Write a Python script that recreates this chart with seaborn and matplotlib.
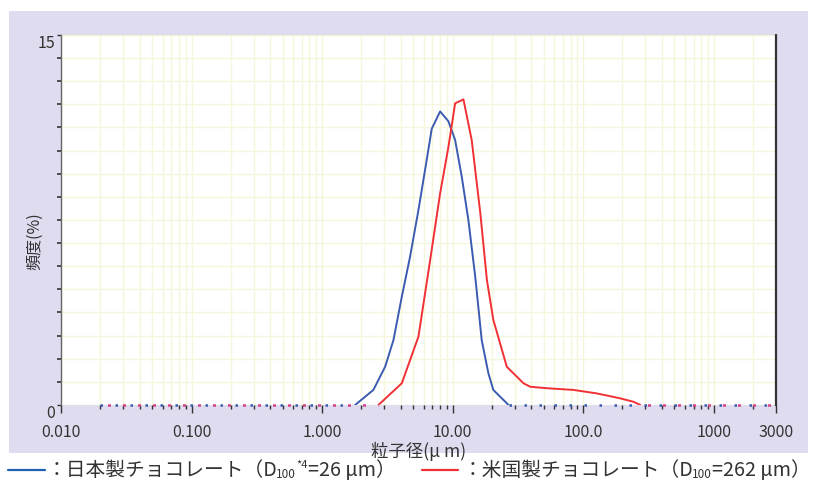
import numpy as np
import pandas as pd
import matplotlib
matplotlib.use("Agg")
import matplotlib.pyplot as plt
import matplotlib.ticker as mticker
from matplotlib.lines import Line2D
import seaborn as sns

# Particle size distribution of chocolate (frequency %, log size axis)
jp_size = [1.79, 2.47, 3.04, 3.52, 4.08, 4.72, 5.47, 6.15, 6.92, 8.02, 9.29,
           10.45, 11.75, 13.2, 14.9, 16.7, 18.8, 20.5, 26.8]
jp_freq = [0.0, 0.61, 1.55, 2.63, 4.39, 6.01, 7.9, 9.53, 11.2, 11.9, 11.5,
           10.74, 9.25, 7.5, 5.2, 2.63, 1.28, 0.61, 0.0]

us_size = [2.70, 4.08, 5.47, 6.73, 8.02, 9.29, 10.45, 12.1, 14.0, 16.3, 18.3,
           20.5, 26.0, 34.9, 39.3, 52.7, 84.4, 127.0, 192.0, 243.0, 274.0]
us_freq = [0.0, 0.88, 2.77, 5.88, 8.58, 10.47, 12.23, 12.39, 10.74, 7.77, 5.07,
           3.45, 1.55, 0.88, 0.74, 0.68, 0.61, 0.47, 0.27, 0.13, 0.0]

series_names = ["日本製チョコレート", "米国製チョコレート"]
series_colors = ["#3a5bb0", "#f03035"]

x_ticks = [0.01, 0.1, 1, 10, 100, 1000, 3000]
x_tick_labels = ["0.010", "0.100", "1.000", "10.00", "100.0", "1000", "3000"]
y_ticks = [0, 15]
y_tick_labels = ["0", "15"]
x_range = (0.01, 3000)
baseline_start = 0.02

sns.set_style("white")
plt.rcParams["font.family"] = ["Noto Sans CJK JP", "DejaVu Sans"]

df = pd.concat([
    pd.DataFrame({"size": jp_size, "freq": jp_freq, "sample": series_names[0]}),
    pd.DataFrame({"size": us_size, "freq": us_freq, "sample": series_names[1]}),
])

fig = plt.figure(figsize=(8.21, 4.88), dpi=100)
fig.patch.set_facecolor("white")

# lavender panel behind the chart
panel = plt.Rectangle((0.011, 0.0717), 0.973, 0.905, transform=fig.transFigure,
                      facecolor="#dedcee", edgecolor="none", zorder=0)
fig.add_artist(panel)

ax = fig.add_axes([0.0743, 0.1701, 0.8709, 0.7582])
ax.set_facecolor("white")
ax.set_zorder(1)

sns.lineplot(data=df, x="size", y="freq", hue="sample",
             palette=dict(zip(series_names, series_colors)),
             linewidth=1.4, legend=False, ax=ax, zorder=3)

# zero-frequency channels along the baseline, drawn dotted
base_kw = dict(lw=1.8, zorder=4, clip_on=False, dash_capstyle="butt")
ax.plot([baseline_start, jp_size[0]], [0, 0], color=series_colors[0],
        ls=(0, (1, 5)), **base_kw)
ax.plot([jp_size[-1], x_range[1]], [0, 0], color=series_colors[0],
        ls=(0, (1, 5)), **base_kw)
ax.plot([baseline_start, us_size[0]], [0, 0], color="#d84088",
        ls=(3, (1.2, 4.8)), **base_kw)
ax.plot([us_size[-1], x_range[1]], [0, 0], color="#d84088",
        ls=(3, (1.2, 4.8)), **base_kw)

ax.set_xscale("log")
ax.set_xlim(*x_range)
ax.set_ylim(0, 15)

# grid: log minor positions vertically, 16 divisions horizontally
ax.xaxis.set_major_locator(mticker.FixedLocator(x_ticks))
ax.xaxis.set_major_formatter(mticker.FixedFormatter(x_tick_labels))
ax.xaxis.set_minor_locator(mticker.LogLocator(base=10, subs=np.arange(2, 10)))
ax.xaxis.set_minor_formatter(mticker.NullFormatter())
ax.yaxis.set_major_locator(mticker.FixedLocator(y_ticks))
ax.yaxis.set_major_formatter(mticker.FixedFormatter(y_tick_labels))
ax.yaxis.set_minor_locator(mticker.FixedLocator(np.linspace(0, 15, 17)))

ax.grid(True, which="both", color="#f6f6dc", lw=1.0, zorder=0)
ax.set_axisbelow(True)

ax.tick_params(axis="x", which="major", direction="out", length=6, width=1,
               color="#333333", labelsize=11.5, labelcolor="#333333", pad=8,
               bottom=True)
ax.tick_params(axis="x", which="minor", direction="out", length=3, width=1,
               color="#333333", bottom=True)
ax.tick_params(axis="y", which="major", direction="out", length=3, width=1,
               color="#333333", labelsize=11.5, labelcolor="#333333", pad=1,
               left=True)
ax.tick_params(axis="y", which="minor", direction="out", length=3, width=1.2,
               color="#333333", left=True)
for lbl in ax.get_yticklabels():
    lbl.set_verticalalignment("top")

for side in ["top", "bottom"]:
    ax.spines[side].set_visible(False)
ax.spines["left"].set_color("#666666")
ax.spines["left"].set_linewidth(1.0)
ax.spines["right"].set_color("#333333")
ax.spines["right"].set_linewidth(1.6)
ax.spines["right"].set_linestyle((0, (0.8, 1.0)))
ax.axhline(15, color="#f0f0c8", lw=1.2, zorder=1)

ax.set_ylabel("")
ax.set_xlabel("粒子径(μ m)", fontsize=12.5, color="#333333", labelpad=0)
fig.text(0.0426, 0.506, "頻度(%)", rotation=90, fontsize=11.5, color="#333333",
         ha="center", va="center")

# legend line below the panel
legend_y = 0.035
fig.add_artist(Line2D([0.010, 0.055], [legend_y + 0.001] * 2, transform=fig.transFigure,
                      color="#2060b0", lw=1.6))
fig.add_artist(Line2D([0.514, 0.558], [legend_y + 0.001] * 2, transform=fig.transFigure,
                      color="#f03035", lw=1.6))

fs = 14.2
tc = "#333333"


def chain(prev, s, size=fs, dx=0.0, dy=0.0):
    return ax.annotate(s, xy=(1, 0), xycoords=prev, xytext=(dx, dy),
                       textcoords="offset points", fontsize=size, color=tc,
                       ha="left", va="bottom", annotation_clip=False)


t = fig.text(0.057, legend_y, "：" + series_names[0] + "（D", fontsize=fs,
             color=tc, ha="left", va="center")
t = chain(t, "100", size=8.5, dx=-1.0, dy=0)
t = chain(t, "*4", size=8, dx=0.0, dy=8)
t = chain(t, "=26 μm）", size=fs, dx=0.5, dy=-8)

t2 = fig.text(0.563, legend_y, "：" + series_names[1] + "（D", fontsize=fs,
              color=tc, ha="left", va="center")
t2 = chain(t2, "100", size=8.5, dx=-1.0, dy=0)
t2 = chain(t2, "=262 μm）", size=fs, dx=0.5, dy=0)

fig.savefig("out.png", dpi=100)
